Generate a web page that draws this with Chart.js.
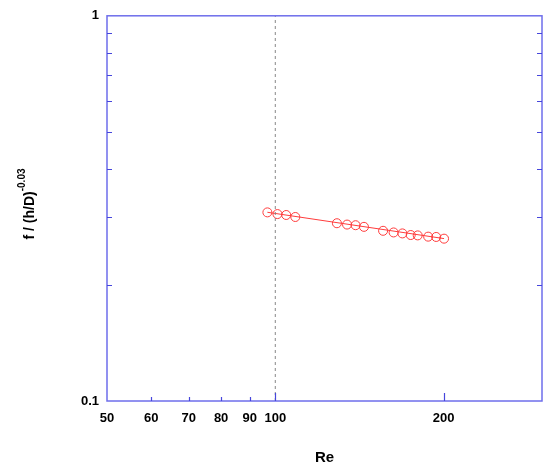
<!DOCTYPE html>
<html>
<head>
<meta charset="utf-8">
<script src="https://cdn.jsdelivr.net/npm/chart.js@4/dist/chart.umd.min.js"></script>
<style>
html,body{margin:0;padding:0;background:#fff;}
#wrap{width:550px;height:470px;}
</style>
</head>
<body>
<div id="wrap"><canvas id="c" width="550" height="470"></canvas></div>
<script>
const reValues = [96.8, 100.9, 104.6, 108.6, 128.9, 134.4, 139.2, 144.1, 155.9, 162.8, 168.8, 174.7, 179.8, 187.7, 194.0, 200.4];
const fValues  = [0.3088, 0.3057, 0.3040, 0.3004, 0.2894, 0.2871, 0.2860, 0.2832, 0.2766, 0.2739, 0.2723, 0.2697, 0.2691, 0.2671, 0.2666, 0.2639];
const fitLineRe = [96.8, 200.4];
const fitLineF  = [0.3090, 0.2640];
const refLineRe = [100, 100];
const refLineF  = [0.1, 1];
const xTickValues = [50, 60, 70, 80, 90, 100, 200];
const yTickValues = [0.1, 1];
const yMinorTicks = [0.2, 0.3, 0.4, 0.5, 0.6, 0.7, 0.8, 0.9];
const xMinorTicks = [60, 70, 80, 90];
const xMajorTicks = [100, 200];

const FONT = "'Liberation Sans', Arial, sans-serif";
const FRAME = 'rgb(110,110,235)';
const TICKC = 'rgb(70,70,220)';

const framePlugin = {
  id: 'frame',
  afterDatasetsDraw(chart) {
    const {ctx, chartArea: a, scales} = chart;
    ctx.save();
    ctx.strokeStyle = FRAME;
    ctx.lineWidth = 1.5;
    ctx.strokeRect(a.left, a.top, a.right - a.left, a.bottom - a.top);
    ctx.strokeStyle = TICKC;
    ctx.lineWidth = 1.2;
    ctx.beginPath();
    yMinorTicks.forEach(v => {
      const y = Math.round(scales.y.getPixelForValue(v)) + 0.5;
      ctx.moveTo(a.left, y); ctx.lineTo(a.left + 5, y);
      ctx.moveTo(a.right, y); ctx.lineTo(a.right - 5, y);
    });
    xMinorTicks.forEach(v => {
      const x = Math.round(scales.x.getPixelForValue(v)) + 0.5;
      ctx.moveTo(x, a.bottom); ctx.lineTo(x, a.bottom - 4);
    });
    xMajorTicks.forEach(v => {
      const x = Math.round(scales.x.getPixelForValue(v)) + 0.5;
      ctx.moveTo(x, a.bottom); ctx.lineTo(x, a.bottom - 8);
    });
    ctx.stroke();
    // y axis title with superscript
    ctx.fillStyle = '#000';
    ctx.translate(30, 204);
    ctx.rotate(-Math.PI / 2);
    const main = 'f / (h/D)';
    const sup = '-0.03';
    ctx.font = 'bold 14px ' + FONT;
    const mw = ctx.measureText(main).width;
    ctx.font = 'bold 10px ' + FONT;
    const sw = ctx.measureText(sup).width;
    const total = mw + sw;
    ctx.textBaseline = 'middle';
    ctx.textAlign = 'left';
    ctx.font = 'bold 14px ' + FONT;
    ctx.fillText(main, -total / 2, 0);
    ctx.font = 'bold 10px ' + FONT;
    ctx.fillText(sup, -total / 2 + mw, -8);
    ctx.restore();
  }
};

new Chart(document.getElementById('c'), {
  type: 'scatter',
  data: {
    datasets: [
      {
        label: 'ref',
        data: refLineRe.map((x, i) => ({x, y: refLineF[i]})),
        showLine: true,
        borderColor: '#888',
        borderWidth: 1,
        borderDash: [3, 3],
        pointRadius: 0
      },
      {
        label: 'fit',
        data: fitLineRe.map((x, i) => ({x, y: fitLineF[i]})),
        showLine: true,
        borderColor: 'rgb(255,60,60)',
        borderWidth: 1,
        pointRadius: 0
      },
      {
        label: 'data',
        data: reValues.map((x, i) => ({x, y: fValues[i]})),
        showLine: false,
        borderColor: 'rgb(255,60,60)',
        backgroundColor: 'rgba(0,0,0,0)',
        borderWidth: 1,
        pointRadius: 4.5,
        pointStyle: 'circle'
      }
    ]
  },
  options: {
    responsive: false,
    animation: false,
    events: [],
    layout: {padding: {top: 9, right: 8, left: 0, bottom: 0}},
    plugins: {legend: {display: false}, tooltip: {enabled: false}},
    scales: {
      x: {
        type: 'logarithmic',
        min: 50, max: 300,
        border: {display: false},
        grid: {display: false, drawTicks: false},
        afterBuildTicks: s => { s.ticks = xTickValues.map(v => ({value: v})); },
        afterFit: s => { s.height = 69; },
        ticks: {
          autoSkip: false, maxRotation: 0, padding: 10,
          color: '#000',
          font: {family: FONT, size: 13, weight: 'bold'},
          callback: v => String(v)
        },
        title: {
          display: true, text: 'Re', color: '#000',
          font: {family: FONT, size: 15, weight: 'bold'},
          padding: {top: 0, bottom: 3}
        }
      },
      y: {
        type: 'logarithmic',
        min: 0.1, max: 1,
        border: {display: false},
        grid: {display: false, drawTicks: false},
        afterBuildTicks: s => { s.ticks = yTickValues.map(v => ({value: v})); },
        afterFit: s => { s.width = 107; },
        ticks: {
          autoSkip: false, padding: 8,
          color: '#000',
          font: {family: FONT, size: 13, weight: 'bold'},
          callback: v => String(v)
        }
      }
    }
  },
  plugins: [framePlugin]
});
</script>
</body>
</html>
